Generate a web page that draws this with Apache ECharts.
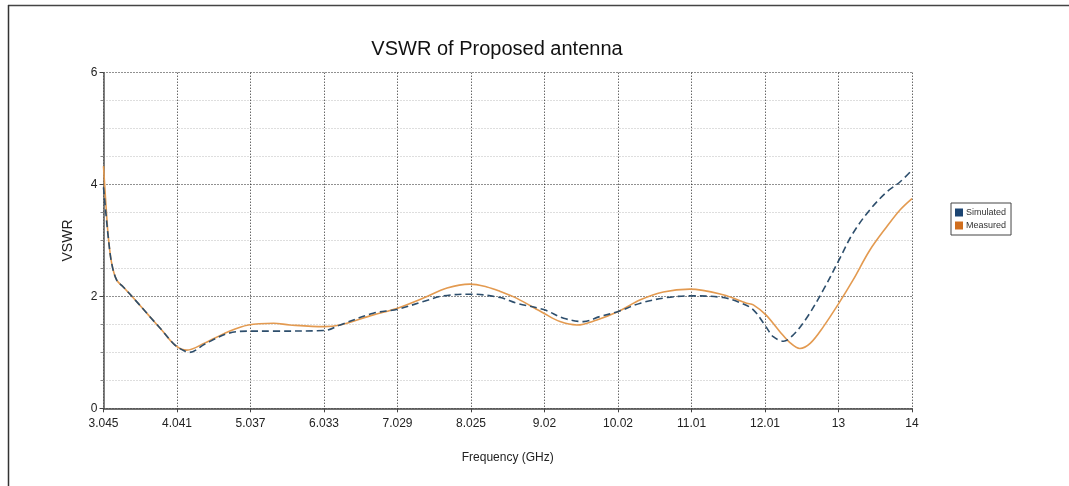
<!DOCTYPE html>
<html>
<head>
<meta charset="utf-8">
<script src="https://cdn.jsdelivr.net/npm/echarts@6/dist/echarts.min.js"></script>
<style>
html,body{margin:0;padding:0;background:#fff;}
#chart{width:1069px;height:486px;}
</style>
</head>
<body>
<div id="chart"></div>
<script>
// ---- data ----
const xTickValues = [3.045, 4.0409, 5.0368, 6.0327, 7.0286, 8.0246, 9.0205, 10.0164, 11.0123, 12.0082, 13.0041, 14];
const xTickLabels = ['3.045', '4.041', '5.037', '6.033', '7.029', '8.025', '9.02', '10.02', '11.01', '12.01', '13', '14'];
const yTickValues = [0, 2, 4, 6];

const simFreq = [3.045, 3.08, 3.11, 3.156, 3.224, 3.313, 3.472, 3.652, 3.834, 4.014, 4.12, 4.208, 4.42, 4.736, 5.007, 5.35, 6.033, 6.25, 6.70, 7.03, 7.38, 7.65, 8.03, 8.42, 8.64, 9.02, 9.28, 9.55, 9.77, 10.02, 10.32, 10.68, 11.02, 11.44, 11.67, 11.85, 12.02, 12.12, 12.26, 12.39, 12.57, 12.80, 13.01, 13.20, 13.43, 13.66, 13.84, 14.0];
const simVSWR = [3.95, 3.45, 3.05, 2.59, 2.29, 2.17, 1.94, 1.67, 1.40, 1.13, 1.04, 1.00, 1.15, 1.34, 1.38, 1.38, 1.39, 1.49, 1.70, 1.77, 1.91, 2.01, 2.04, 1.98, 1.88, 1.76, 1.61, 1.55, 1.64, 1.73, 1.88, 1.98, 2.01, 1.98, 1.89, 1.76, 1.46, 1.28, 1.20, 1.31, 1.61, 2.12, 2.65, 3.13, 3.55, 3.87, 4.05, 4.26];

const measFreq = [3.045, 3.08, 3.11, 3.156, 3.224, 3.313, 3.472, 3.652, 3.834, 4.014, 4.172, 4.42, 4.736, 5.007, 5.35, 5.57, 6.033, 6.25, 6.70, 7.03, 7.38, 7.70, 8.01, 8.24, 8.42, 8.64, 9.01, 9.23, 9.46, 9.73, 10.02, 10.32, 10.63, 10.99, 11.44, 11.76, 11.85, 12.02, 12.21, 12.35, 12.48, 12.62, 12.80, 13.01, 13.20, 13.43, 13.66, 13.84, 14.0];
const measVSWR = [4.33, 3.60, 3.07, 2.59, 2.29, 2.17, 1.94, 1.67, 1.40, 1.13, 1.04, 1.17, 1.37, 1.49, 1.52, 1.49, 1.46, 1.49, 1.67, 1.79, 1.97, 2.15, 2.22, 2.17, 2.09, 1.97, 1.70, 1.55, 1.49, 1.58, 1.73, 1.94, 2.08, 2.13, 2.03, 1.88, 1.85, 1.67, 1.37, 1.17, 1.07, 1.16, 1.46, 1.88, 2.29, 2.83, 3.25, 3.55, 3.75];

const simData = simFreq.map((f, i) => [f, simVSWR[i]]);
const measData = measFreq.map((f, i) => [f, measVSWR[i]]);

const chart = echarts.init(document.getElementById('chart'), null, {renderer: 'canvas'});
const font = 'Arial, "Liberation Sans", sans-serif';

chart.setOption({
  backgroundColor: '#ffffff',
  animation: false,
  title: {
    text: 'VSWR of Proposed antenna',
    left: 492, top: 34, textAlign: 'center',
    textStyle: {fontFamily: font, fontSize: 20, fontWeight: 'normal', color: '#111'}
  },
  legend: {
    left: 951, top: 203,
    orient: 'vertical',
    icon: 'rect',
    itemWidth: 8, itemHeight: 8, itemGap: 4,
    padding: [5, 5, 5, 4],
    borderColor: '#444', borderWidth: 1,
    textStyle: {fontFamily: font, fontSize: 9, color: '#333', padding: [0, 0, 0, -2]},
    data: [
      {name: 'Simulated', itemStyle: {color: '#1b4472'}},
      {name: 'Measured', itemStyle: {color: '#d06e1e'}}
    ]
  },
  graphic: [
    {type: 'line', shape: {x1: 8, y1: 5.5, x2: 1069, y2: 5.5}, style: {stroke: '#444', lineWidth: 1.5}},
    {type: 'line', shape: {x1: 8.5, y1: 5, x2: 8.5, y2: 486}, style: {stroke: '#333', lineWidth: 1.5}}
  ],
  grid: {left: 103.5, right: 157, top: 72.7, bottom: 77.7, containLabel: false},
  xAxis: {
    type: 'value', min: 3.045, max: 14,
    name: 'Frequency (GHz)', nameLocation: 'middle', nameGap: 43,
    nameTextStyle: {fontFamily: font, fontSize: 12, color: '#222'},
    axisLine: {show: true, lineStyle: {color: '#444', width: 1.5}},
    axisTick: {show: true, length: 4, customValues: xTickValues, lineStyle: {color: '#444'}},
    axisLabel: {
      customValues: xTickValues, margin: 9,
      fontFamily: font, fontSize: 12, color: '#222',
      formatter: function (v) {
        let best = 0;
        for (let i = 0; i < xTickValues.length; i++) {
          if (Math.abs(xTickValues[i] - v) < Math.abs(xTickValues[best] - v)) best = i;
        }
        return xTickLabels[best];
      }
    },
    splitLine: {show: true, lineStyle: {color: '#222', type: [1, 2], width: 1}}
  },
  yAxis: {
    type: 'value', min: 0, max: 6, interval: 2,
    name: 'VSWR', nameLocation: 'middle', nameGap: 28, nameRotate: 90,
    nameTextStyle: {fontFamily: font, fontSize: 14, color: '#222'},
    axisLine: {show: true, lineStyle: {color: '#555', width: 1.5}},
    axisTick: {show: true, length: 4, lineStyle: {color: '#444'}},
    minorTick: {show: true, splitNumber: 4, length: 3, lineStyle: {color: '#888'}},
    axisLabel: {
      customValues: yTickValues, margin: 6,
      fontFamily: font, fontSize: 12, color: '#222'
    },
    splitLine: {show: true, lineStyle: {color: '#222', type: [1, 2], width: 1}},
    minorSplitLine: {show: true, lineStyle: {color: '#bdbdbd', type: [1, 2], width: 1}}
  },
  series: [
    {
      name: 'Simulated', type: 'line', data: simData,
      smooth: 0.35, showSymbol: false, symbol: 'none',
      itemStyle: {color: '#1b4472'},
      lineStyle: {color: '#2d4e6c', width: 1.6, type: [7, 4]},
      z: 3
    },
    {
      name: 'Measured', type: 'line', data: measData,
      smooth: 0.35, showSymbol: false, symbol: 'none',
      itemStyle: {color: '#d06e1e'},
      lineStyle: {color: '#e39a50', width: 1.6},
      z: 2
    }
  ]
});
</script>
</body>
</html>
